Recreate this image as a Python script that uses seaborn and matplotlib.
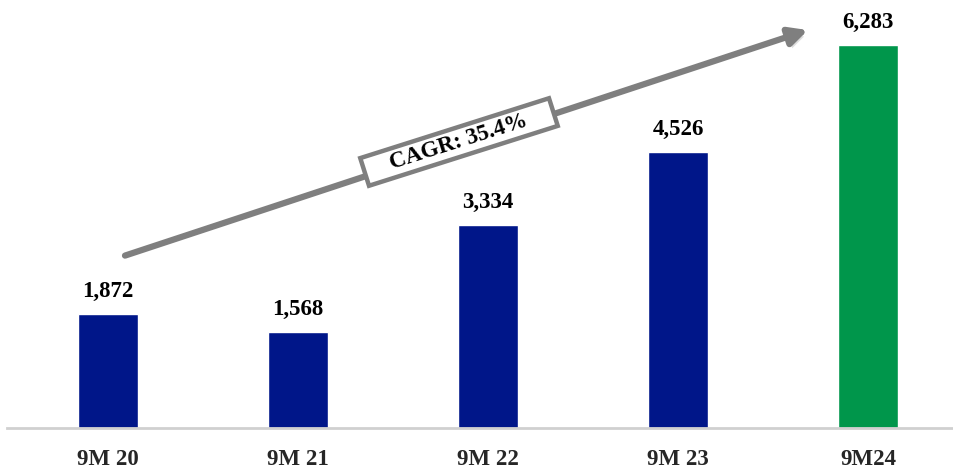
import matplotlib
matplotlib.use("Agg")
import matplotlib.pyplot as plt
import matplotlib.patches as mpatches
import matplotlib.transforms as mtransforms
import matplotlib.patheffects as pe
import seaborn as sns
import pandas as pd

categories = ["9M 20", "9M 21", "9M 22", "9M 23", "9M24"]
values = [1872, 1568, 3334, 4526, 6283]
labels = ["1,872", "1,568", "3,334", "4,526", "6,283"]
colors = ["#001689", "#001689", "#001689", "#001689", "#00964B"]
cagr_text = "CAGR: 35.4%"

sns.set_theme(style="white")
plt.rcParams['font.family'] = ['Liberation Serif', 'DejaVu Serif']

df = pd.DataFrame({"cat": categories, "val": values})

W, H = 954, 469
fig = plt.figure(figsize=(W / 100, H / 100), dpi=100)
ax = fig.add_axes([7 / W, 41 / H, 947 / W, 428 / H])
sns.barplot(data=df, x="cat", y="val", hue="cat", palette=colors, legend=False,
            width=60 / 190, saturation=1, ax=ax)

ax.set_xlim(-0.532, 4.453)
ax.set_ylim(0, 7020)
for i, (v, l) in enumerate(zip(values, labels)):
    ax.text(i, v + 280, l, ha="center", va="baseline", fontsize=16.5,
            fontweight="bold", color="black")

for s in ["top", "right", "left"]:
    ax.spines[s].set_visible(False)
ax.spines["bottom"].set_color("#d0d0d0")
ax.spines["bottom"].set_linewidth(2)
ax.set_yticks([])
ax.set_xlabel("")
ax.set_ylabel("")
ax.tick_params(axis="x", length=0, pad=15, labelsize=16.5)
for t in ax.get_xticklabels():
    t.set_fontweight("bold")

# CAGR arrow
ax.annotate("", xy=(0.8458, 0.9297), xytext=(0.1246, 0.4028), xycoords="axes fraction",
            arrowprops=dict(arrowstyle="-|>,head_length=0.9,head_width=0.45", color="#7f7f7f",
                            lw=4.5, shrinkA=0, shrinkB=0,
                            path_effects=[pe.SimplePatchShadow(offset=(2, -3), alpha=0.15),
                                          pe.Normal()]))

# CAGR label box (pixel coordinates, rotated along the arrow)
cx, cy = 459, H - 142
angle = 17.6
box_w, box_h = 198, 29
rect = mpatches.Rectangle((cx - box_w / 2, cy - box_h / 2), box_w, box_h,
                          facecolor="white", edgecolor="#7f7f7f", linewidth=3.2,
                          transform=mtransforms.Affine2D().rotate_deg_around(cx, cy, angle),
                          zorder=5)
fig.add_artist(rect)
fig.text(cx / W, cy / H, cagr_text, rotation=angle, rotation_mode="anchor",
         ha="center", va="center", fontsize=16.5, fontweight="bold", color="black", zorder=6)

fig.savefig("out.png", dpi=100)
